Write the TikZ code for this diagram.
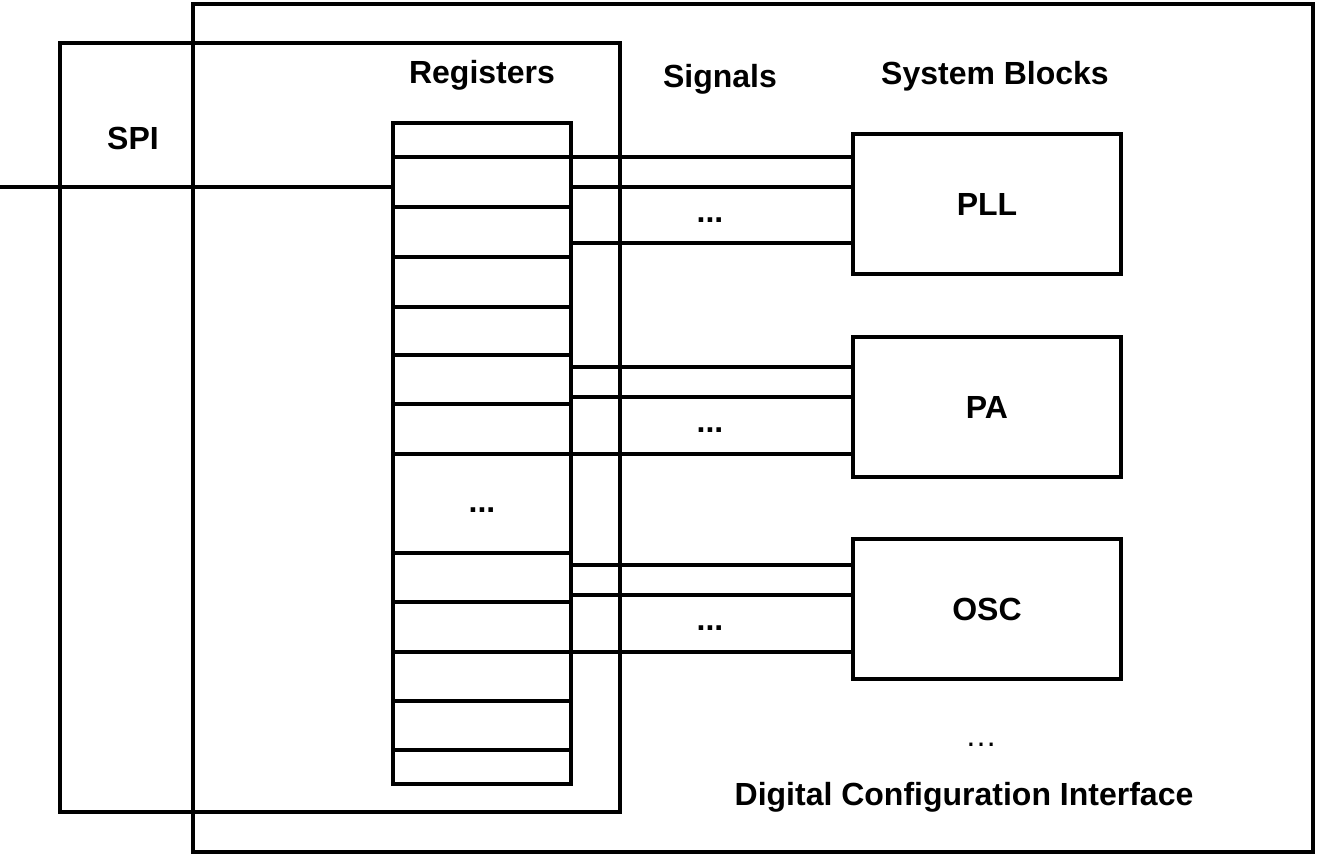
\documentclass[tikz,border=0pt]{standalone}
\usepackage{fontspec}
\setmainfont{Liberation Sans}
\usepackage{tikz}
\usetikzlibrary{positioning}
\tikzstyle{frame} = [rectangle, draw=black, line width=2.2pt, inner sep=0pt, outer sep=0pt, anchor=north west]
\tikzstyle{block} = [rectangle, draw=black, line width=2.2pt, minimum width=134pt, minimum height=70pt, text depth=0pt, font=\bfseries\fontsize{16}{19}\selectfont]
\tikzstyle{title} = [font=\bfseries\fontsize{16}{19}\selectfont, inner sep=0pt, anchor=base]
\tikzstyle{dots} = [font=\fontsize{16}{19}\selectfont, inner sep=0pt, anchor=base]
\tikzstyle{wire} = [line width=2.2pt]

\begin{document}
\begin{tikzpicture}[x=0.5pt, y=-0.5pt]
        \useasboundingbox (0,0) rectangle (1318,857);
        % frames
        \node (dci) [frame, minimum width=560pt, minimum height=424pt] at (193,4) {};
        \node (spi) [frame, minimum width=280pt, minimum height=384.5pt] at (60,43) {};
        \node (regs) [frame, minimum width=89pt, minimum height=330.5pt] at (393,123) {};

        % register cells
        \foreach \y in {157,207,257,307,355,404,454,553,602,652,701,750}
            \draw [wire] (regs.west |- 0,\y) -- (regs.east |- 0,\y);

        % system blocks
        \node (pll) [block] at (987,204) {PLL};
        \node (pa) [block] at (987,407) {PA};
        \node (osc) [block] at (987,609) {OSC};

        % labels
        \node (spiText) [title] at (133,149) {SPI};
        \node (regText) [title] at (482,83) {Registers};
        \node (sigText) [title] at (720,87) {Signals};
        \node (sysText) [title] at (995,84) {System Blocks};
        \node (dciText) [title] at (964,805) {Digital Configuration Interface};
        \node (regDots) [title] at (482,512) {...};
        \node (pllDots) [title] at (710,222) {...};
        \node (paDots) [title] at (710,432) {...};
        \node (oscDots) [title] at (710,630) {...};
        \node (moreDots) [dots] at (981,746) {\ldots};

        % spi input
        \coordinate (spiIn) at (0,187);
        \draw [wire] (spiIn) -- (regs.west |- spiIn);

        % signals
        \foreach \y in {157,187,243}
            \draw [wire] (regs.east |- 0,\y) -- (pll.west |- 0,\y);
        \foreach \y in {367,397,454}
            \draw [wire] (regs.east |- 0,\y) -- (pa.west |- 0,\y);
        \foreach \y in {565,595,652}
            \draw [wire] (regs.east |- 0,\y) -- (osc.west |- 0,\y);
    \end{tikzpicture}
\end{document}
